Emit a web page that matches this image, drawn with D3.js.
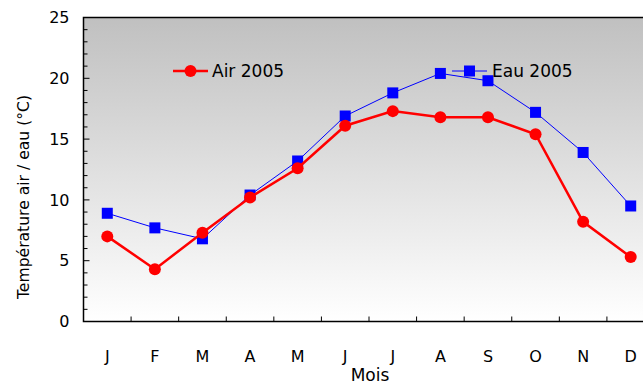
<!DOCTYPE html>
<html>
<head>
<meta charset="utf-8">
<script src="https://cdn.jsdelivr.net/npm/d3@7"></script>
<style>
  body { margin: 0; background: #fff; }
  svg text { font-family: "DejaVu Sans", sans-serif; fill: #000; }
</style>
</head>
<body>
<svg width="643" height="385"></svg>
<script>
// donnees
const mois = ["J", "F", "M", "A", "M", "J", "J", "A", "S", "O", "N", "D"]
const air2005 = [7.0, 4.3, 7.3, 10.2, 12.6, 16.1, 17.3, 16.8, 16.8, 15.4, 8.2, 5.3]
const eau2005 = [8.9, 7.7, 6.8, 10.4, 13.2, 16.9, 18.8, 20.4, 19.8, 17.2, 13.9, 9.5]
const yTicks = [0, 5, 10, 15, 20, 25]

const svg = d3.select("svg")
const margin = { top: 17.5, left: 83.5, bottom: 63 }
const plotW = 571
const plotH = 385 - margin.top - margin.bottom - 0.5

const idx = mois.map((m, i) => i)

const xScale = d3.scaleBand()
    .domain(idx)
    .range([0, plotW])

const yScale = d3.scaleLinear()
    .domain([0, 25])
    .range([plotH, 0])

// degrade de fond
const defs = svg.append("defs")
const grad = defs.append("linearGradient")
    .attr("id", "fond")
    .attr("x1", 0).attr("y1", 0)
    .attr("x2", 0).attr("y2", 1)
grad.append("stop").attr("offset", "0%").attr("stop-color", "#c0c0c0")
grad.append("stop").attr("offset", "100%").attr("stop-color", "#ffffff")

const g = svg.append("g")
    .attr("transform", `translate(${margin.left},${margin.top})`)

g.append("rect")
    .attr("width", plotW)
    .attr("height", plotH)
    .attr("fill", "url(#fond)")
    .attr("stroke", "#000")
    .attr("stroke-width", 1.5)

// petits traits de l'axe y (vers l'interieur)
g.selectAll(".minor")
    .data(d3.range(1, 25))
    .enter()
    .append("line")
    .attr("x1", 0)
    .attr("x2", d => d % 5 == 0 ? 6 : 4)
    .attr("y1", d => yScale(d))
    .attr("y2", d => yScale(d))
    .attr("stroke", "#000")
    .attr("stroke-width", 1)

// libelles de l'axe y
g.selectAll(".ylab")
    .data(yTicks)
    .enter()
    .append("text")
    .attr("x", -14)
    .attr("y", d => yScale(d))
    .attr("dy", "0.35em")
    .attr("text-anchor", "end")
    .style("font-size", "16px")
    .text(d => d)

// traits de l'axe x entre les mois
g.selectAll(".xtick")
    .data(d3.range(1, 12))
    .enter()
    .append("line")
    .attr("x1", d => xScale(d))
    .attr("x2", d => xScale(d))
    .attr("y1", plotH)
    .attr("y2", plotH - 5)
    .attr("stroke", "#000")
    .attr("stroke-width", 1)

g.selectAll(".xlab")
    .data(idx)
    .enter()
    .append("text")
    .attr("x", d => xScale(d) + xScale.bandwidth() / 2)
    .attr("y", plotH + 40)
    .attr("text-anchor", "middle")
    .style("font-size", "16px")
    .text(d => mois[d])

// titres des axes
svg.append("text")
    .attr("x", 370)
    .attr("y", 381)
    .attr("text-anchor", "middle")
    .style("font-size", "17px")
    .text("Mois")

svg.append("text")
    .attr("transform", "translate(29,197) rotate(-90)")
    .attr("text-anchor", "middle")
    .style("font-size", "15.6px")
    .text("Température air / eau (°C)")

const cx = i => xScale(i) + xScale.bandwidth() / 2

const line = d3.line()
    .x((d, i) => cx(i))
    .y(d => yScale(d))

// serie eau
g.append("path")
    .datum(eau2005)
    .attr("d", line)
    .attr("fill", "none")
    .attr("stroke", "#0000ff")
    .attr("stroke-width", 1)

g.selectAll(".eau")
    .data(eau2005)
    .enter()
    .append("rect")
    .attr("x", (d, i) => cx(i) - 5.5)
    .attr("y", d => yScale(d) - 5.5)
    .attr("width", 11)
    .attr("height", 11)
    .attr("fill", "#0000ff")

// serie air
g.append("path")
    .datum(air2005)
    .attr("d", line)
    .attr("fill", "none")
    .attr("stroke", "#ff0000")
    .attr("stroke-width", 2.5)

g.selectAll(".air")
    .data(air2005)
    .enter()
    .append("circle")
    .attr("cx", (d, i) => cx(i))
    .attr("cy", d => yScale(d))
    .attr("r", 6)
    .attr("fill", "#ff0000")

// legende
const leg = svg.append("g")
leg.append("line")
    .attr("x1", 173).attr("x2", 208)
    .attr("y1", 71).attr("y2", 71)
    .attr("stroke", "#ff0000").attr("stroke-width", 2.5)
leg.append("circle")
    .attr("cx", 190.5).attr("cy", 71).attr("r", 6)
    .attr("fill", "#ff0000")
leg.append("text")
    .attr("x", 212).attr("y", 71).attr("dy", "0.36em")
    .style("font-size", "17px")
    .text("Air 2005")

leg.append("line")
    .attr("x1", 452).attr("x2", 487)
    .attr("y1", 71).attr("y2", 71)
    .attr("stroke", "#0000ff").attr("stroke-width", 1)
leg.append("rect")
    .attr("x", 464).attr("y", 65.5)
    .attr("width", 11).attr("height", 11)
    .attr("fill", "#0000ff")
leg.append("text")
    .attr("x", 492).attr("y", 71).attr("dy", "0.36em")
    .style("font-size", "17px")
    .text("Eau 2005")
</script>
</body>
</html>
